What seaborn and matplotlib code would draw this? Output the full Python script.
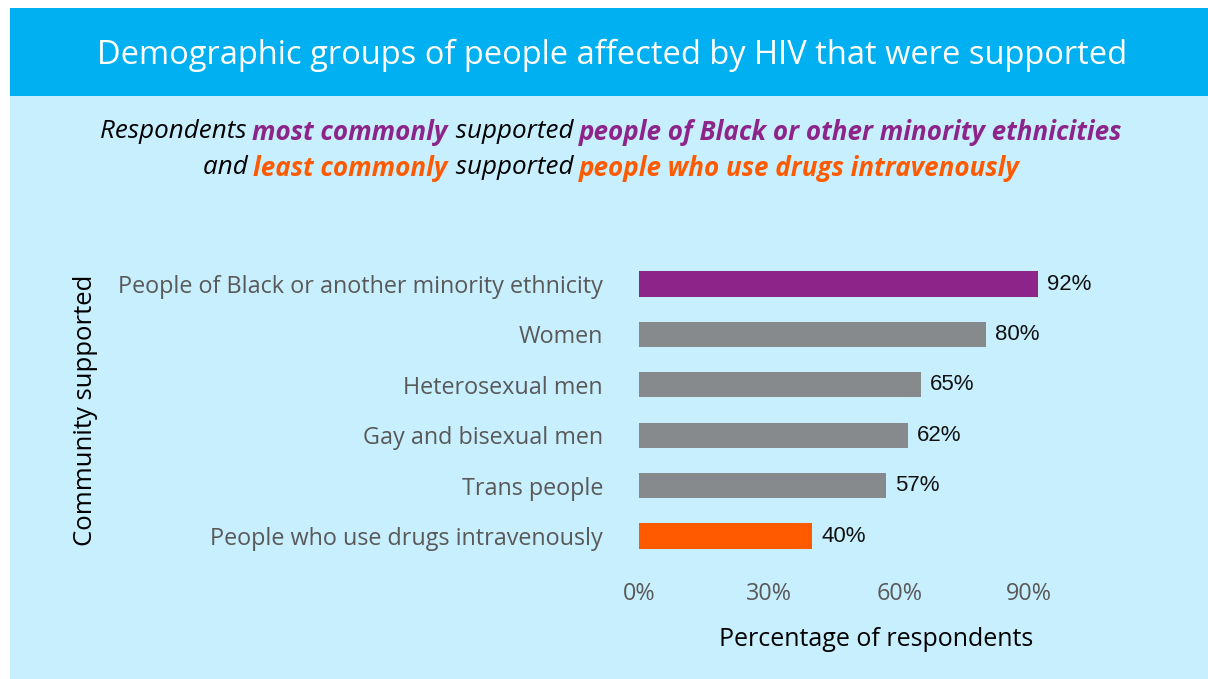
import matplotlib
matplotlib.use("Agg")
import matplotlib.pyplot as plt
from matplotlib.patches import Rectangle
import pandas as pd
import seaborn as sns

# ---- data -------------------------------------------------------------
categories = [
    "People of Black or another minority ethnicity",
    "Women",
    "Heterosexual men",
    "Gay and bisexual men",
    "Trans people",
    "People who use drugs intravenously",
]
percentages = [92, 80, 65, 62, 57, 40]
bar_colors = ["#8C2489", "#878A8D", "#878A8D", "#878A8D", "#878A8D", "#FF5A00"]
x_ticks = [0, 30, 60, 90]
x_tick_labels = ["0%", "30%", "60%", "90%"]

title = "Demographic groups of people affected by HIV that were supported"
PURPLE = "#8C2489"
ORANGE = "#FF5A00"
subtitle_lines = [
    [("Respondents ", "black", "normal"),
     ("most commonly", PURPLE, "bold"),
     (" supported ", "black", "normal"),
     ("people of Black or other minority ethnicities", PURPLE, "bold")],
    [("and ", "black", "normal"),
     ("least commonly", ORANGE, "bold"),
     (" supported ", "black", "normal"),
     ("people who use drugs intravenously", ORANGE, "bold")],
]

# ---- style ------------------------------------------------------------
sns.set_theme(style="white")
plt.rcParams["font.family"] = ["Open Sans", "DejaVu Sans"]

BG = "#C8EFFE"
HEADER = "#00B0F0"
TICK_GREY = "#595959"

W, H = 1208, 679
fig = plt.figure(figsize=(W / 100, H / 100), dpi=100, facecolor="white")

# panel background and header band (kept behind the axes)
fig.patches.append(Rectangle((10 / W, 0), 1 - 10 / W, (H - 96) / H,
                             transform=fig.transFigure, facecolor=BG,
                             edgecolor="none", zorder=-10))
fig.patches.append(Rectangle((10 / W, (H - 96) / H), 1 - 10 / W, 88 / H,
                             transform=fig.transFigure, facecolor=HEADER,
                             edgecolor="none", zorder=-10))

fig.text(612 / W, 1 - 55 / H, title, color="white", fontsize=23.5,
         ha="center", va="center")

# subtitle with coloured emphasis, laid out segment by segment
renderer = fig.canvas.get_renderer()


def text_width(s, **kw):
    t = fig.text(0, 0, s, **kw)
    w = t.get_window_extent(renderer).width
    t.remove()
    return w


def advance(s, **kw):
    # width of s including its spaces, measured between two bar glyphs
    return text_width("|" + s + "|", **kw) - text_width("||", **kw)


def rich_line(segments, y_px, fontsize, bold_shift=-1.5):
    texts, widths, shifts = [], [], []
    for s, color, weight in segments:
        style = dict(fontweight=weight, fontstyle="italic", fontsize=fontsize)
        t = fig.text(0, 1 - y_px / H, s, color=color, ha="left",
                     va="center", **style)
        texts.append(t)
        widths.append(advance(s, **style))
        shifts.append(bold_shift if weight == "bold" else 0.0)
    x = 612 - sum(widths) / 2
    for t, w, dx in zip(texts, widths, shifts):
        t.set_x((x + dx) / W)
        x += w


rich_line(subtitle_lines[0], 132, 18.7)
rich_line(subtitle_lines[1], 168, 18.7)

# ---- bar chart --------------------------------------------------------
ax = fig.add_axes([639 / W, 1 - 561.2 / H, (1113 - 639) / W, 302.4 / H])
ax.patch.set_alpha(0)

df = pd.DataFrame({"community": categories, "pct": percentages})
sns.barplot(data=df, x="pct", y="community", hue="community",
            palette=dict(zip(categories, bar_colors)), saturation=1,
            width=0.5, linewidth=0, legend=False, orient="h", ax=ax)

for container in ax.containers:
    ax.bar_label(container, fmt="{:.0f}%", padding=6.5, fontsize=16,
                 fontfamily="Liberation Sans", color="#111111")

ax.set_xlim(0, 109.3)
ax.set_ylim(5.5, -0.5)
ax.set_xticks(x_ticks)
ax.set_xticklabels(x_tick_labels)
ax.tick_params(axis="x", length=0, pad=15, labelsize=16.8, labelcolor=TICK_GREY)
ax.tick_params(axis="y", length=0, pad=26, labelsize=16.8, labelcolor=TICK_GREY)
sns.despine(ax=ax, left=True, bottom=True)
ax.grid(False)

ax.set_xlabel("Percentage of respondents", fontsize=18, color="black",
              labelpad=15)
ax.set_ylabel("Community supported", fontsize=18.5, color="black")
ax.yaxis.set_label_coords((98 - 639) / (1113 - 639), 0.5)

fig.savefig("out.png", dpi=100, facecolor=fig.get_facecolor())
